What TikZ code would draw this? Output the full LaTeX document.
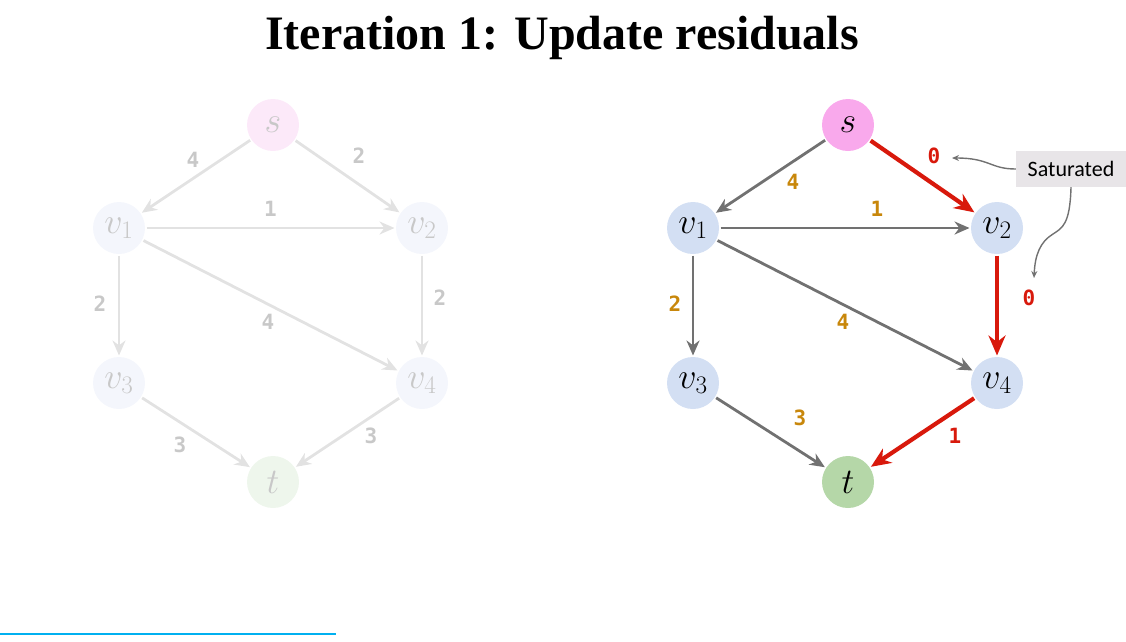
\documentclass[tikz,border=0pt]{standalone}
\usepackage{fix-cm}
\usepackage{fontspec}
\setmainfont{Liberation Serif}
\newfontfamily\weightfont{DejaVu Sans Mono}
\newfontfamily\notefont{Carlito}
\usepackage{xcolor}
\usetikzlibrary{arrows.meta}

\definecolor{srcpink}{HTML}{F9A9EC}
\definecolor{midblue}{HTML}{D3DFF3}
\definecolor{sinkgreen}{HTML}{B5D7A8}
\definecolor{fadepink}{HTML}{FCE9F9}
\definecolor{fadeblue}{HTML}{F4F6FC}
\definecolor{fadegreen}{HTML}{EEF6EC}
\definecolor{fadeline}{HTML}{E2E2E2}
\definecolor{fadetext}{HTML}{C8C8C8}
\definecolor{edgegray}{HTML}{717171}
\definecolor{satred}{HTML}{D8190C}
\definecolor{capgold}{HTML}{C8870B}
\definecolor{notebg}{HTML}{E8E5E8}
\definecolor{barblue}{HTML}{00B0F0}

\begin{document}
\begin{tikzpicture}[
    x=1pt, y=-1pt,
    vtx/.style={circle, minimum size=52pt, inner sep=0pt, outer sep=1.5pt, font=\fontsize{36}{36}\selectfont},
    fadevtx/.style={vtx, text=fadetext},
    flow/.style={-{Stealth[length=15pt,width=13pt]}, line width=2.8pt, draw=edgegray},
    fadeflow/.style={-{Stealth[length=15pt,width=13pt]}, line width=2.8pt, draw=fadeline},
    satflow/.style={-{Stealth[length=20pt,width=17pt]}, line width=4.2pt, draw=satred},
    wlabel/.style={font=\weightfont\bfseries\fontsize{21}{21}\selectfont, text=capgold, inner sep=0pt},
    fadelabel/.style={wlabel, text=fadetext},
    satlabel/.style={wlabel, text=satred},
    note/.style={fill=notebg, font=\notefont\fontsize{22}{22}\selectfont, minimum width=110pt, minimum height=36pt, inner sep=2pt},
    pointer/.style={-{Stealth[length=7pt,width=6pt]}, line width=1.4pt, draw=edgegray}
]
\useasboundingbox (0,0) rectangle (1126,641);
\node[font=\bfseries\fontsize{48}{48}\selectfont] (title) at (562,38) {Iteration 1: Update residuals};

% faded graph (before update)
\node[fadevtx, fill=fadepink] (fs) at (273,125) {$s$};
\node[fadevtx, fill=fadeblue] (fv1) at (119,228) {$v_1$};
\node[fadevtx, fill=fadeblue] (fv2) at (422,228) {$v_2$};
\node[fadevtx, fill=fadeblue] (fv3) at (119,383) {$v_3$};
\node[fadevtx, fill=fadeblue] (fv4) at (422,383) {$v_4$};
\node[fadevtx, fill=fadegreen] (ft) at (273,482) {$t$};
\draw[fadeflow] (fs) -- node[fadelabel, xshift=-3pt, yshift=16.5pt] {4} (fv1);
\draw[fadeflow] (fs) -- node[fadelabel, xshift=11.5pt, yshift=20.5pt] {2} (fv2);
\draw[fadeflow] (fv1) -- node[fadelabel, yshift=19pt] {1} (fv2);
\draw[fadeflow] (fv1) -- node[fadelabel, xshift=-19pt, yshift=1.5pt] {2} (fv3);
\draw[fadeflow] (fv1) -- node[fadelabel, xshift=-2.5pt, yshift=-16.5pt] {4} (fv4);
\draw[fadeflow] (fv2) -- node[fadelabel, xshift=18pt, yshift=7.5pt] {2} (fv4);
\draw[fadeflow] (fv3) -- node[fadelabel, xshift=-16pt, yshift=-12.5pt] {3} (ft);
\draw[fadeflow] (fv4) -- node[fadelabel, xshift=23.5pt, yshift=-3.5pt] {3} (ft);

% residual graph
\node[vtx, fill=srcpink] (s) at (848,125) {$s$};
\node[vtx, fill=midblue] (v1) at (693,228) {$v_1$};
\node[vtx, fill=midblue] (v2) at (997,228) {$v_2$};
\node[vtx, fill=midblue] (v3) at (693,383) {$v_3$};
\node[vtx, fill=midblue] (v4) at (997,383) {$v_4$};
\node[vtx, fill=sinkgreen] (t) at (848,482) {$t$};
\draw[flow] (s) -- node[wlabel, xshift=22.5pt, yshift=-5.5pt] {4} (v1);
\draw[satflow] (s) -- node[satlabel, xshift=11.5pt, yshift=20.5pt] (ls2) {0} (v2);
\draw[flow] (v1) -- node[wlabel, xshift=32pt, yshift=19pt] {1} (v2);
\draw[flow] (v1) -- node[wlabel, xshift=-18pt, yshift=1.5pt] {2} (v3);
\draw[flow] (v1) -- node[wlabel, xshift=-2pt, yshift=-16.5pt] {4} (v4);
\draw[satflow] (v2) -- node[satlabel, xshift=32pt, yshift=7.5pt] (l24) {0} (v4);
\draw[flow] (v3) -- node[wlabel, xshift=29.5pt, yshift=14.5pt] {3} (t);
\draw[satflow] (v4) -- node[satlabel, xshift=32.5pt, yshift=-3.5pt] {1} (t);

% callout
\node[note] (sat) at (1071,169) {Saturated};
\coordinate (satA) at (952,158);
\coordinate (satB) at (1034,278);
\draw[pointer] (sat.west) .. controls (990,169) and (990,158) .. (satA);
\draw[pointer] (sat.south) .. controls (1070,225) and (1062,228) .. (1053,234)
    .. controls (1040,242) and (1035,255) .. (satB);

% bottom rule
\coordinate (barL) at (0,634);
\coordinate (barR) at (336,634);
\draw[barblue, line width=2.5pt] (barL) -- (barR);
\end{tikzpicture}
\end{document}
